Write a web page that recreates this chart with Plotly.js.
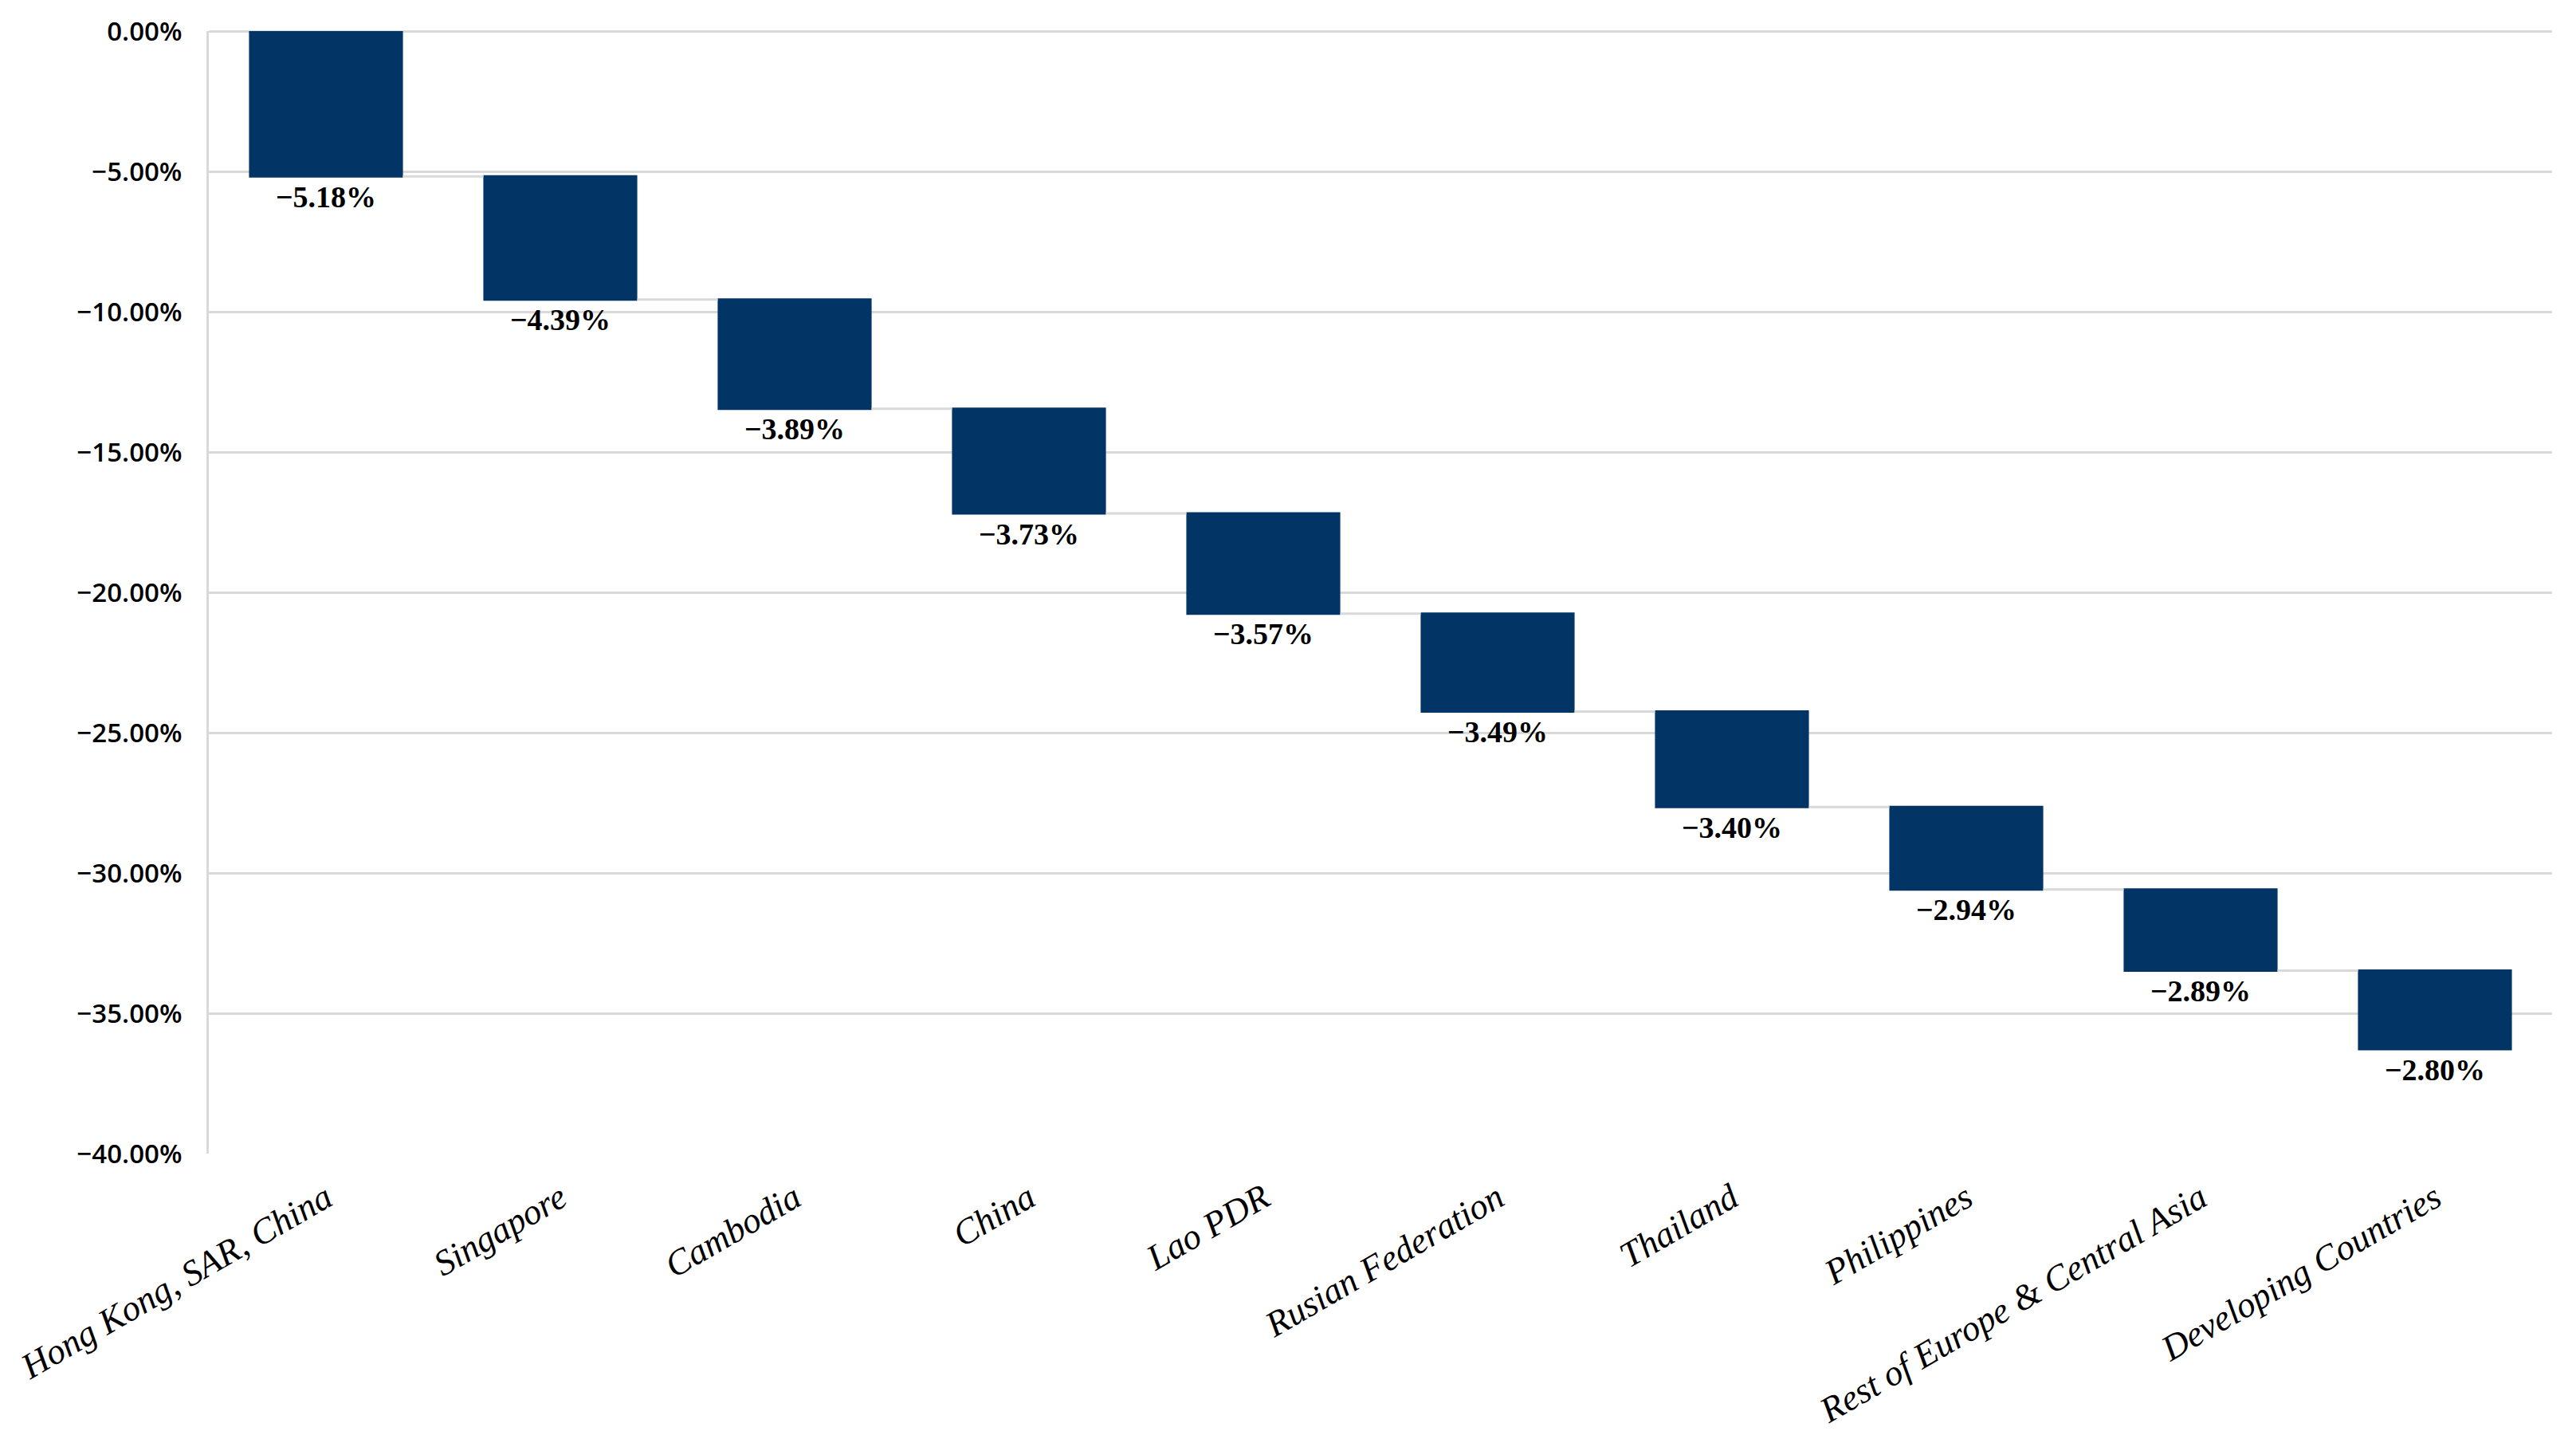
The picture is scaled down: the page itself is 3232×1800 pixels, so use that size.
<!DOCTYPE html>
<html>
<head>
<meta charset="utf-8">
<script src="https://cdn.plot.ly/plotly-3.0.1.min.js"></script>
<style>
  html, body { margin: 0; padding: 0; background: #ffffff; }
  #chart { width: 3232px; height: 1800px; }
</style>
</head>
<body>
<div id="chart"></div>
<script>
const categories = [
  "Hong Kong, SAR, China",
  "Singapore",
  "Cambodia",
  "China",
  "Lao PDR",
  "Rusian Federation",
  "Thailand",
  "Philippines",
  "Rest of Europe & Central Asia",
  "Developing Countries"
];
const changes = [-5.18, -4.39, -3.89, -3.73, -3.57, -3.49, -3.40, -2.94, -2.89, -2.80];
const yTickValues = [0, -5, -10, -15, -20, -25, -30, -35, -40];

const labels = changes.map(v => (v < 0 ? "\u2212" : "") + Math.abs(v).toFixed(2) + "%");
const tickText = yTickValues.map(v => (v < 0 ? "\u2212" : "") + Math.abs(v).toFixed(2) + "%");

const trace = {
  type: "waterfall",
  x: categories,
  y: changes,
  measure: categories.map(() => "relative"),
  base: 0,
  text: labels,
  textposition: "outside",
  textfont: { family: "Liberation Serif", size: 38, color: "#000000", weight: 700 },
  outsidetextfont: { family: "Liberation Serif", size: 38, color: "#000000", weight: 700 },
  cliponaxis: false,
  decreasing: { marker: { color: "#023466", line: { width: 0 } } },
  increasing: { marker: { color: "#023466", line: { width: 0 } } },
  connector: { mode: "between", line: { color: "#d9d9d9", width: 3 } },
  hoverinfo: "skip"
};

const layout = {
  width: 3232,
  height: 1800,
  margin: { l: 262, r: 30, t: 39, b: 353 },
  paper_bgcolor: "#ffffff",
  plot_bgcolor: "#ffffff",
  showlegend: false,
  waterfallgap: 0.343,
  xaxis: {
    type: "category",
    tickangle: -30,
    tickfont: { family: "Liberation Serif", size: 45, color: "#000000", style: "italic" },
    ticks: "",
    ticklabelstandoff: 20,
    showgrid: false,
    showline: false,
    zeroline: false
  },
  yaxis: {
    range: [-40, 0],
    tickvals: yTickValues,
    ticktext: tickText,
    tickfont: { family: "Open Sans", size: 33, color: "#000000", weight: 600 },
    ticks: "",
    ticklabelstandoff: 24,
    showgrid: true,
    gridcolor: "#d9d9d9",
    gridwidth: 3,
    zeroline: true,
    zerolinecolor: "#d9d9d9",
    zerolinewidth: 3,
    showline: true,
    linecolor: "#d9d9d9",
    linewidth: 3,
    mirror: false
  }
};

Plotly.newPlot("chart", [trace], layout, { displayModeBar: false, staticPlot: true });
</script>
</body>
</html>
